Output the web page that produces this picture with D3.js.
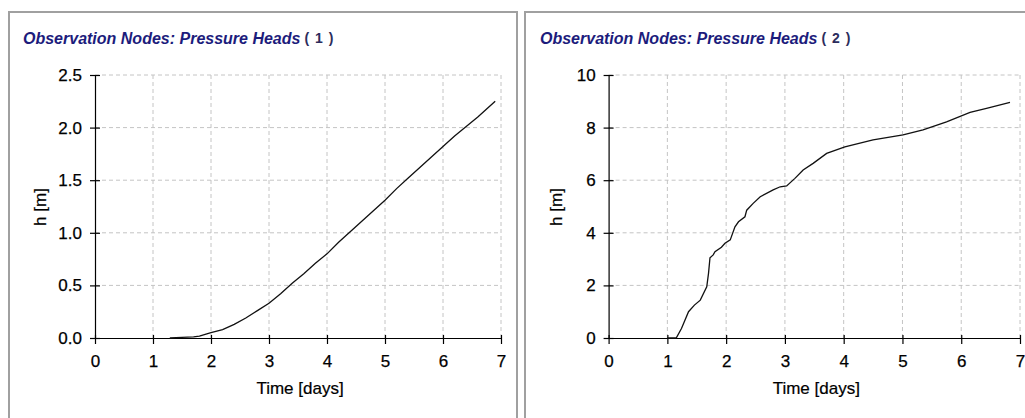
<!DOCTYPE html>
<html>
<head>
<meta charset="utf-8">
<script src="https://cdn.jsdelivr.net/npm/d3@7"></script>
<style>
  body { margin: 0; background: #fff; }
  svg { display: block; font-family: "Liberation Sans", Arial, sans-serif; }
  .grid line { stroke: #c4c4c4; stroke-dasharray: 4,3; }
  .axis path, .axis line { stroke: #000; stroke-width: 1.2; }
  .axis text { font-size: 17px; fill: #000; font-family: "Liberation Sans", Arial, sans-serif; stroke: #000; stroke-width: 0.25; }
  .label { font-size: 17px; fill: #000; stroke: #000; stroke-width: 0.2; }
  .title { font-size: 16px; font-weight: bold; font-style: italic; fill: #1c1c7c; }
  .num { font-size: 14px; font-weight: bold; font-style: normal; fill: #2c2c5c; letter-spacing: 1px; }
</style>
</head>
<body>
<div id="chart"></div>
<script>
// shared axis values
let xTicks = [0, 1, 2, 3, 4, 5, 6, 7];
let yTicks1 = [0, 0.5, 1.0, 1.5, 2.0, 2.5];
let yTicks2 = [0, 2, 4, 6, 8, 10];

// node 1 pressure head (time in days, h in m)
let time1 = [1.29, 1.5, 1.7, 1.8, 2.0, 2.2, 2.4, 2.6, 2.8, 3.0, 3.2, 3.4, 3.6, 3.8, 4.0,
    4.2, 4.4, 4.6, 4.8, 5.0, 5.2, 5.4, 5.6, 5.8, 6.0, 6.2, 6.4, 6.6, 6.8, 6.9];
let head1 = [0, 0.005, 0.01, 0.018, 0.05, 0.08, 0.13, 0.19, 0.26, 0.33, 0.42, 0.52, 0.61, 0.71, 0.80,
    0.91, 1.01, 1.11, 1.21, 1.31, 1.42, 1.52, 1.62, 1.72, 1.82, 1.92, 2.01, 2.10, 2.20, 2.25];

// node 2 pressure head
let time2 = [1.0, 1.15, 1.24, 1.36, 1.46, 1.56, 1.67, 1.70, 1.725, 1.78, 1.81, 1.92, 1.98, 2.07,
    2.15, 2.21, 2.32, 2.35, 2.46, 2.58, 2.80, 2.92, 3.03, 3.17, 3.31, 3.48, 3.71, 4.02,
    4.50, 5.01, 5.35, 5.75, 6.15, 6.43, 6.83];
let head2 = [0, 0, 0.36, 1.0, 1.25, 1.44, 1.95, 2.46, 3.05, 3.16, 3.28, 3.45, 3.6, 3.73,
    4.23, 4.42, 4.61, 4.86, 5.12, 5.37, 5.63, 5.75, 5.78, 6.07, 6.39, 6.64, 7.02, 7.27,
    7.53, 7.72, 7.91, 8.22, 8.58, 8.73, 8.96];

let svg = d3.select("#chart")
    .append("svg")
    .attr("width", 1025)
    .attr("height", 418);

// panel frames
svg.append("path")
    .attr("d", "M9,418 V12 H517 V418")
    .attr("fill", "none")
    .attr("stroke", "#a0a0a0")
    .attr("stroke-width", 2);

svg.append("path")
    .attr("d", "M525,418 V12 H1030")
    .attr("fill", "none")
    .attr("stroke", "#a0a0a0")
    .attr("stroke-width", 2);

function drawChart(opts) {
    let g = svg.append("g");
    let xScale = d3.scaleLinear().domain([0, 7]).range([opts.x0, opts.x1]);
    let yScale = d3.scaleLinear().domain([0, opts.yMax]).range([338, 75]);

    // title
    let title = g.append("text")
        .attr("class", "title")
        .attr("x", opts.titleX)
        .attr("y", 44)
        .text("Observation Nodes: Pressure Heads");
    g.append("text")
        .attr("class", "num")
        .attr("x", opts.titleX + title.node().getComputedTextLength() + 4)
        .attr("y", 43)
        .attr("xml:space", "preserve")
        .text("( " + opts.num + " )");

    // grid
    let grid = g.append("g").attr("class", "grid");
    grid.selectAll(".vx")
        .data(xTicks.filter(d => d > 0))
        .join("line")
        .attr("x1", d => xScale(d))
        .attr("x2", d => xScale(d))
        .attr("y1", yScale(opts.yMax))
        .attr("y2", yScale(0));
    grid.selectAll(".hy")
        .data(opts.yTicks.filter(d => d > 0))
        .join("line")
        .attr("x1", xScale(0))
        .attr("x2", xScale(7))
        .attr("y1", d => yScale(d))
        .attr("y2", d => yScale(d));

    // x axis
    let xAxis = g.append("g")
        .attr("class", "axis")
        .attr("transform", "translate(0," + yScale(0) + ")")
        .call(d3.axisBottom(xScale).tickValues(xTicks).tickFormat(d3.format("d"))
            .tickSize(6).tickPadding(11).tickSizeOuter(0));
    xAxis.selectAll(".tick line").attr("y1", -3);

    // y axis
    let yAxis = g.append("g")
        .attr("class", "axis")
        .attr("transform", "translate(" + xScale(0) + ",0)")
        .call(d3.axisLeft(yScale).tickValues(opts.yTicks).tickFormat(opts.fmt)
            .tickSize(5).tickPadding(8).tickSizeOuter(0));
    yAxis.selectAll(".tick line").attr("x1", 5);

    // labels
    g.append("text")
        .attr("class", "label")
        .attr("text-anchor", "middle")
        .attr("x", (opts.x0 + opts.x1) / 2 + 2)
        .attr("y", 394)
        .text("Time [days]");
    g.append("text")
        .attr("class", "label")
        .attr("text-anchor", "middle")
        .attr("transform", "translate(" + opts.labelX + ",207) rotate(-90)")
        .text("h [m]");

    // curve
    let line = d3.line()
        .x(d => xScale(d[0]))
        .y(d => yScale(d[1]));
    g.append("path")
        .datum(opts.time.map((t, i) => [t, opts.head[i]]))
        .attr("fill", "none")
        .attr("stroke", "#111")
        .attr("stroke-width", 1.3)
        .attr("d", line);
}

drawChart({
    x0: 95, x1: 501, yMax: 2.5, yTicks: yTicks1, fmt: d3.format(".1f"),
    titleX: 23, num: "1", labelX: 46, time: time1, head: head1
});

drawChart({
    x0: 608.6, x1: 1020, yMax: 10, yTicks: yTicks2, fmt: d3.format("d"),
    titleX: 540, num: "2", labelX: 562, time: time2, head: head2
});
</script>
</body>
</html>
